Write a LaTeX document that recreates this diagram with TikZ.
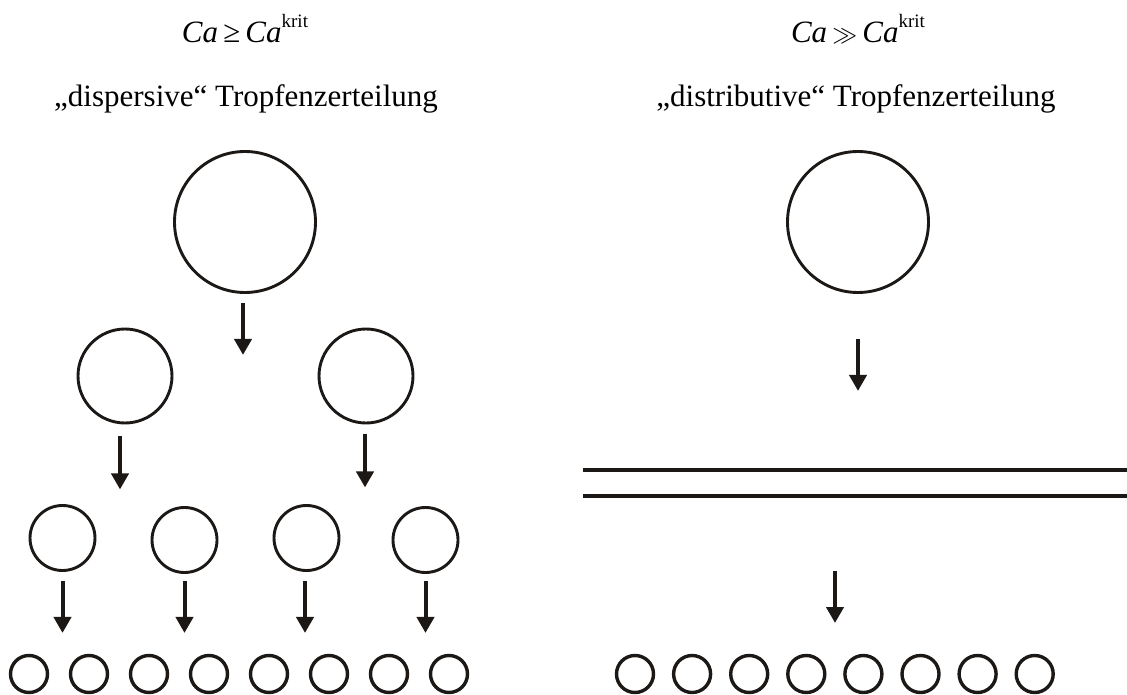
\documentclass[tikz,border=0pt]{standalone}
\usepackage{fontspec}
\setmainfont{Liberation Serif}
\usetikzlibrary{arrows.meta}
\definecolor{ink}{RGB}{28,24,22}
\begin{document}
\begin{tikzpicture}[x=1pt,y=-1pt,
  drop/.style={circle,draw=ink,line width=2.9pt,inner sep=0pt,minimum size=#1},
  droplet/.style={circle,draw=ink,line width=3.4pt,inner sep=0pt,minimum size=#1},
  flow/.style={draw=ink,line width=4pt,-{Triangle[width=17pt,length=16pt]}},
  film/.style={draw=ink,line width=3.4pt},
  label/.style={anchor=base,inner sep=0pt,font=\fontsize{31}{37}\selectfont},
]
\useasboundingbox (0,0) rectangle (1127,695);

% headings
\newcommand{\krit}{\raisebox{15pt}{\fontsize{19}{19}\selectfont krit}}
\node[label] (capL) at (245,43) {\textit{Ca}\,≥\,\textit{Ca}\krit};
\node[label] (capR) at (858,43) {\textit{Ca}\,$\gg$\,\textit{Ca}\krit};
\node[label] (titL) at (246,107) {„dispersive“ Tropfenzerteilung};
\node[label] (titR) at (856,107) {„distributive“ Tropfenzerteilung};

% dispersive break-up: binary cascade
\node[drop=141pt] (a) at (245,222) {};
\node[drop=94pt] (b1) at (125,376) {};
\node[drop=94pt] (b2) at (366,376) {};
\node[drop=65pt] (c1) at (62.5,538) {};
\node[drop=65pt] (c2) at (184.5,540) {};
\node[drop=65pt] (c3) at (306.5,538) {};
\node[drop=65pt] (c4) at (425.5,540) {};
\foreach \i in {0,...,7}
  \node[droplet=37pt] (d\i) at ({29+60*\i},674) {};

\draw[flow] ([xshift=-2pt,yshift=-9pt]a.south) -- ++(0,52);
\draw[flow] ([xshift=-5pt,yshift=-12pt]b1.south) -- ++(0,53);
\draw[flow] ([xshift=-1pt,yshift=-10pt]b2.south) -- ++(0,53);
\draw[flow] ([xshift=0pt,yshift=-9pt]c1.south) -- ++(0,52);
\draw[flow] ([xshift=0pt,yshift=-7pt]c2.south) -- ++(0,52);
\draw[flow] ([xshift=-1.5pt,yshift=-9pt]c3.south) -- ++(0,52);
\draw[flow] ([xshift=0pt,yshift=-7pt]c4.south) -- ++(0,52);

% distributive break-up: drop stretched into a thread
\node[drop=141pt] (A) at (858,222) {};
\coordinate (t1) at (583,470);
\coordinate (t2) at (583,496);
\draw[film] (t1) -- (1127,470);
\draw[film] (t2) -- (1127,496);
\foreach \i in {0,...,7}
  \node[droplet=37pt] (D\i) at ({635+57.1*\i},674) {};

\draw[flow] ([yshift=-45pt]A.south) -- ++(0,52);
\coordinate (r2) at (835,571);
\draw[flow] (r2) -- ++(0,52);
\end{tikzpicture}
\end{document}
